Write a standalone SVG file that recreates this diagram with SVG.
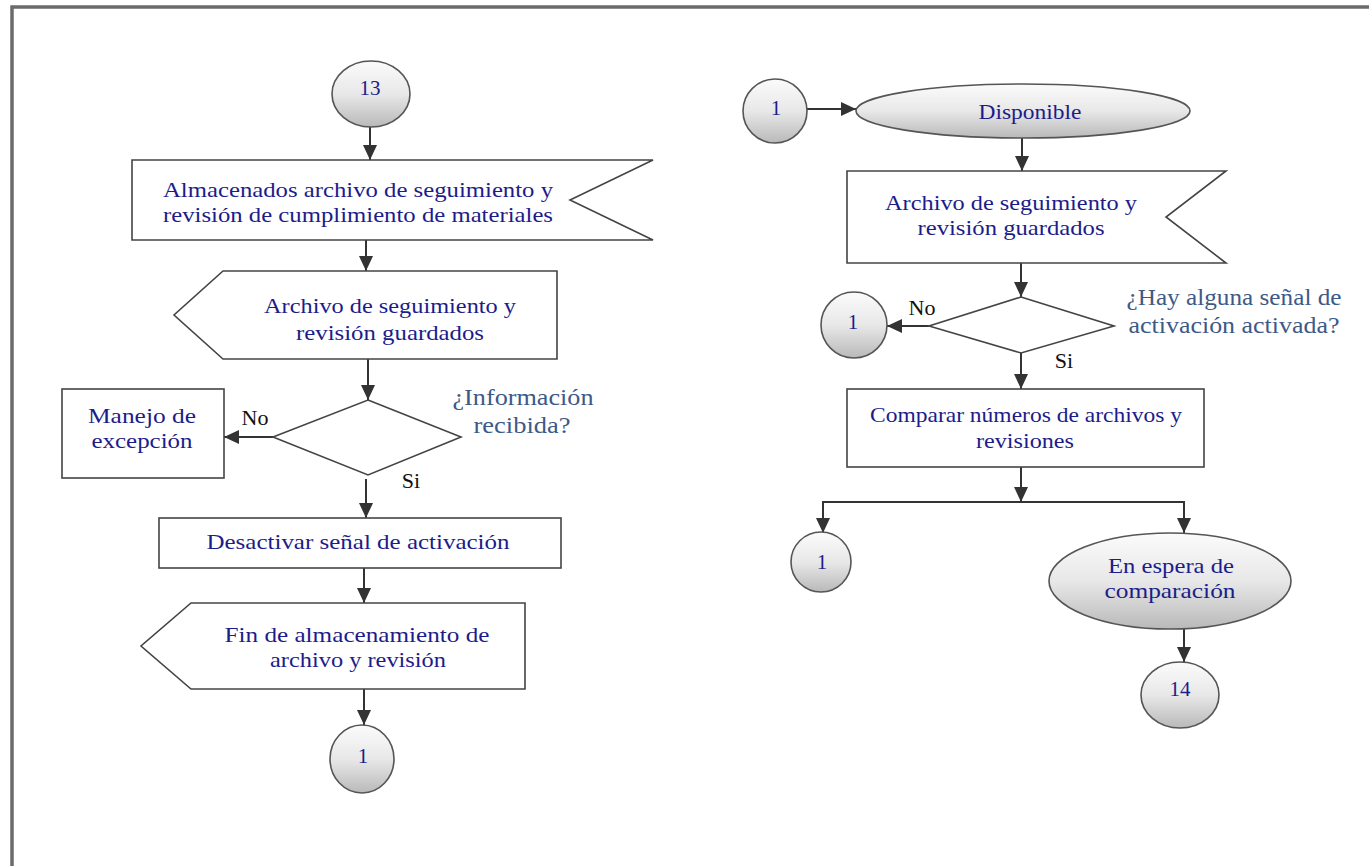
<svg xmlns="http://www.w3.org/2000/svg" width="1369" height="866" viewBox="0 0 1369 866">
<defs>
<linearGradient id="gr" x1="0" y1="0" x2="0" y2="1">
<stop offset="0" stop-color="#fbfbfb"/>
<stop offset="0.5" stop-color="#e8e8e8"/>
<stop offset="1" stop-color="#b9b9b9"/>
</linearGradient>
<marker id="ah" markerUnits="userSpaceOnUse" markerWidth="16" markerHeight="14" refX="15" refY="7" orient="auto">
<path d="M0,0 L15,7 L0,14 z" fill="#333"/>
</marker>
<style>
.box{fill:#fff;stroke:#444;stroke-width:1.6}
.oval{fill:url(#gr);stroke:#555;stroke-width:1.6}
.t{font-family:"Liberation Serif","Times New Roman",serif;font-size:22px;fill:#1c1c8a;text-anchor:middle}
.q{font-family:"Liberation Serif","Times New Roman",serif;font-size:24px;fill:#3d5a87;text-anchor:middle}
.l{font-family:"Liberation Serif","Times New Roman",serif;font-size:22px;fill:#111;text-anchor:middle}
.n{font-family:"Liberation Serif","Times New Roman",serif;font-size:21px;fill:#1c1c8a;text-anchor:middle}
.c{fill:none;stroke:#333;stroke-width:2;marker-end:url(#ah)}
</style>
</defs>
<rect width="1369" height="866" fill="#fff"/>
<path d="M12,866 V7 H1369" fill="none" stroke="#6b6b6b" stroke-width="3.5"/>

<g id="connectors">
<path class="c" d="M370,127 V160"/>
<path class="c" d="M366,240 V271"/>
<path class="c" d="M368,359 V400"/>
<path class="c" d="M273,437 H224"/>
<path class="c" d="M366,479 V518"/>
<path class="c" d="M364,568 V603"/>
<path class="c" d="M364,689 V725"/>
<path class="c" d="M807,109 H856"/>
<path class="c" d="M1022,138 V171"/>
<path class="c" d="M1021,263 V297"/>
<path class="c" d="M929,326 H887"/>
<path class="c" d="M1021,353 V389"/>
<path class="c" d="M1021,467 V502"/>
<path class="c" d="M1021,502 H823 V533"/>
<path class="c" d="M1021,502 H1184 V533"/>
<path class="c" d="M1184,629 V662"/>
</g>

<g id="n13">
<ellipse class="oval" cx="371" cy="94" rx="39" ry="33"/>
<text class="n" x="370" y="95" font-size="19">13</text>
</g>
<g id="almacenados">
<path class="box" d="M132,160 H653 L570,200 L653,240 H132 Z"/>
<text class="t" x="358" y="197" textLength="390" lengthAdjust="spacingAndGlyphs">Almacenados archivo de seguimiento y</text>
<text class="t" x="358" y="222" textLength="390" lengthAdjust="spacingAndGlyphs">revisión de cumplimiento de materiales</text>
</g>
<g id="guardados1">
<path class="box" d="M223,271 H557 V359 H223 L174,315 Z"/>
<text class="t" x="390" y="313" textLength="252" lengthAdjust="spacingAndGlyphs">Archivo de seguimiento y</text>
<text class="t" x="390" y="340" textLength="188" lengthAdjust="spacingAndGlyphs">revisión guardados</text>
</g>
<g id="decision1">
<path class="box" d="M368,400 L461,437 L368,475 L273,437 Z"/>
<text class="q" x="523" y="405" textLength="141" lengthAdjust="spacingAndGlyphs">¿Información</text>
<text class="q" x="522" y="433" textLength="97" lengthAdjust="spacingAndGlyphs">recibida?</text>
<text class="l" x="255" y="425">No</text>
<text class="l" x="411" y="488">Si</text>
</g>
<g id="excepcion">
<rect class="box" x="62" y="389" width="162" height="89"/>
<text class="t" x="142" y="423" textLength="108" lengthAdjust="spacingAndGlyphs">Manejo de</text>
<text class="t" x="142" y="448" textLength="101" lengthAdjust="spacingAndGlyphs">excepción</text>
</g>
<g id="desactivar">
<rect class="box" x="159" y="518" width="402" height="50"/>
<text class="t" x="358" y="549" textLength="303" lengthAdjust="spacingAndGlyphs">Desactivar señal de activación</text>
</g>
<g id="fin">
<path class="box" d="M191,603 H525 V689 H191 L141,646 Z"/>
<text class="t" x="357" y="642" textLength="265" lengthAdjust="spacingAndGlyphs">Fin de almacenamiento de</text>
<text class="t" x="358" y="667" textLength="176" lengthAdjust="spacingAndGlyphs">archivo y revisión</text>
</g>
<g id="c1left">
<ellipse class="oval" cx="362" cy="759" rx="32" ry="34"/>
<text class="n" x="363" y="763">1</text>
</g>

<g id="c1top">
<ellipse class="oval" cx="775" cy="111" rx="32" ry="32"/>
<text class="n" x="776" y="115" font-size="23">1</text>
</g>
<g id="disponible">
<ellipse class="oval" cx="1023" cy="111" rx="167" ry="27"/>
<text class="t" x="1030" y="119" textLength="103" lengthAdjust="spacingAndGlyphs">Disponible</text>
</g>
<g id="guardados2">
<path class="box" d="M847,171 H1226 L1166,217 L1226,263 H847 Z"/>
<text class="t" x="1011" y="210" textLength="252" lengthAdjust="spacingAndGlyphs">Archivo de seguimiento y</text>
<text class="t" x="1011" y="235" textLength="187" lengthAdjust="spacingAndGlyphs">revisión guardados</text>
</g>
<g id="decision2">
<path class="box" d="M1021,297 L1114,326 L1021,353 L929,326 Z"/>
<text class="q" x="1234" y="305" font-size="22" textLength="215" lengthAdjust="spacingAndGlyphs">¿Hay alguna señal de</text>
<text class="q" x="1234" y="333" font-size="22" textLength="211" lengthAdjust="spacingAndGlyphs">activación activada?</text>
<text class="l" x="922" y="315">No</text>
<text class="l" x="1064" y="368">Si</text>
</g>
<g id="c1mid">
<ellipse class="oval" cx="854" cy="325" rx="33" ry="33"/>
<text class="n" x="853" y="329" font-size="23">1</text>
</g>
<g id="comparar">
<rect class="box" x="847" y="389" width="357" height="78"/>
<text class="t" x="1026" y="422" textLength="312" lengthAdjust="spacingAndGlyphs">Comparar números de archivos y</text>
<text class="t" x="1025" y="448" textLength="98" lengthAdjust="spacingAndGlyphs">revisiones</text>
</g>
<g id="c1bottom">
<ellipse class="oval" cx="821" cy="562" rx="30" ry="30"/>
<text class="n" x="822" y="569" font-size="23">1</text>
</g>
<g id="espera">
<ellipse class="oval" cx="1170" cy="581" rx="121" ry="48"/>
<text class="t" x="1171" y="573" textLength="126" lengthAdjust="spacingAndGlyphs">En espera de</text>
<text class="t" x="1170" y="598" textLength="131" lengthAdjust="spacingAndGlyphs">comparación</text>
</g>
<g id="n14">
<ellipse class="oval" cx="1180" cy="695" rx="39" ry="33"/>
<text class="n" x="1180" y="696" font-size="20">14</text>
</g>
</svg>
